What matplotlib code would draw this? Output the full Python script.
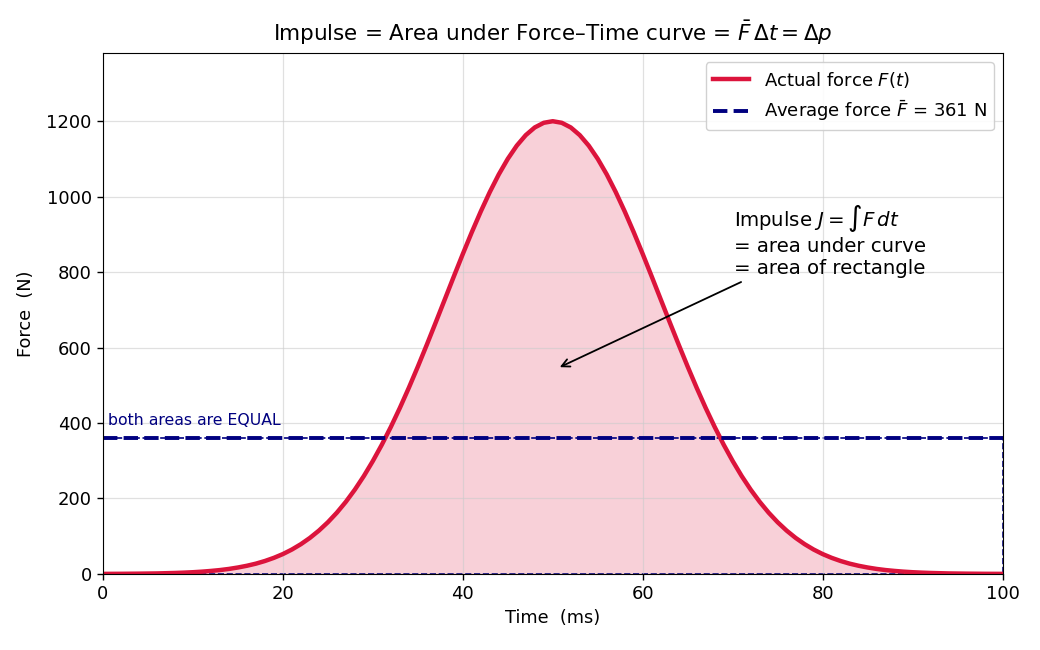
import matplotlib
matplotlib.use("Agg")
import matplotlib.pyplot as plt
from matplotlib.patches import Rectangle

# Time samples (ms), one per millisecond, and force (N)
time_ms = list(range(0, 101))
force_N = [
    0.2, 0.3, 0.4, 0.6, 0.8, 1.1, 1.4, 2.0, 2.6, 3.5,
    4.6, 6.1, 8.0, 10.3, 13.3, 17.1, 21.7, 27.3, 34.3, 42.7,
    52.7, 64.7, 78.9, 95.5, 114.8, 137.0, 162.4, 191.2, 223.5, 259.5,
    299.3, 342.6, 389.6, 439.9, 493.3, 549.4, 607.6, 667.3, 727.8, 788.4,
    848.0, 905.8, 960.8, 1012.2, 1059.0, 1100.2, 1135.2, 1163.1, 1183.5, 1195.8,
    1200.0,
    1195.8, 1183.5, 1163.1, 1135.2, 1100.2, 1059.0, 1012.2, 960.8, 905.8, 848.0,
    788.4, 727.8, 667.3, 607.6, 549.4, 493.3, 439.9, 389.6, 342.6, 299.3,
    259.5, 223.5, 191.2, 162.4, 137.0, 114.8, 95.5, 78.9, 64.7, 52.7,
    42.7, 34.3, 27.3, 21.7, 17.1, 13.3, 10.3, 8.0, 6.1, 4.6,
    3.5, 2.6, 2.0, 1.4, 1.1, 0.8, 0.6, 0.4, 0.3, 0.2,
]
avg_force = 361
t_start, t_end = 0, 100

fig = plt.figure(figsize=(10.4, 6.5), dpi=100)
ax = fig.add_axes([0.099, 0.117, 0.865, 0.801])

ax.fill_between(time_ms, force_N, 0, color="#DC143C", alpha=0.2, linewidth=0)
ax.plot(time_ms, force_N, color="#DC143C", lw=3.2, label="Actual force $F(t)$")

ax.add_patch(Rectangle((t_start, 0), t_end - t_start, avg_force, fill=False,
                       edgecolor="navy", linestyle="--", linewidth=1.2))
ax.plot([t_start, t_end], [avg_force, avg_force], color="navy", lw=2.8, ls="--",
        label=r"Average force $\bar{F}$ = %d N" % avg_force)

ax.text(0.6, avg_force + 25, "both areas are EQUAL", color="navy", fontsize=11.3,
        va="bottom", ha="left")

ax.annotate("Impulse $J = \\int F\\,dt$\n= area under curve\n= area of rectangle",
            xy=(50.5, 545), xytext=(70.2, 885), fontsize=14.2, va="center", ha="left",
            arrowprops=dict(arrowstyle="->", color="black", lw=1.3))

ax.set_xlim(0, 100)
ax.set_ylim(0, 1380)
ax.set_xticks([0, 20, 40, 60, 80, 100])
ax.set_yticks([0, 200, 400, 600, 800, 1000, 1200])
ax.tick_params(labelsize=13, length=4.5, width=1.0)
ax.grid(True, color="#cccccc", alpha=0.6, lw=0.9)
ax.set_xlabel("Time  (ms)", fontsize=12.8)
ax.set_ylabel("Force  (N)", fontsize=12.8, labelpad=8)
ax.set_title(r"Impulse = Area under Force–Time curve = $\bar{F}\,\Delta t = \Delta p$",
             fontsize=15.5, pad=9)
ax.legend(loc="upper right", fontsize=13, framealpha=0.9)

fig.savefig("out.png", dpi=100)
